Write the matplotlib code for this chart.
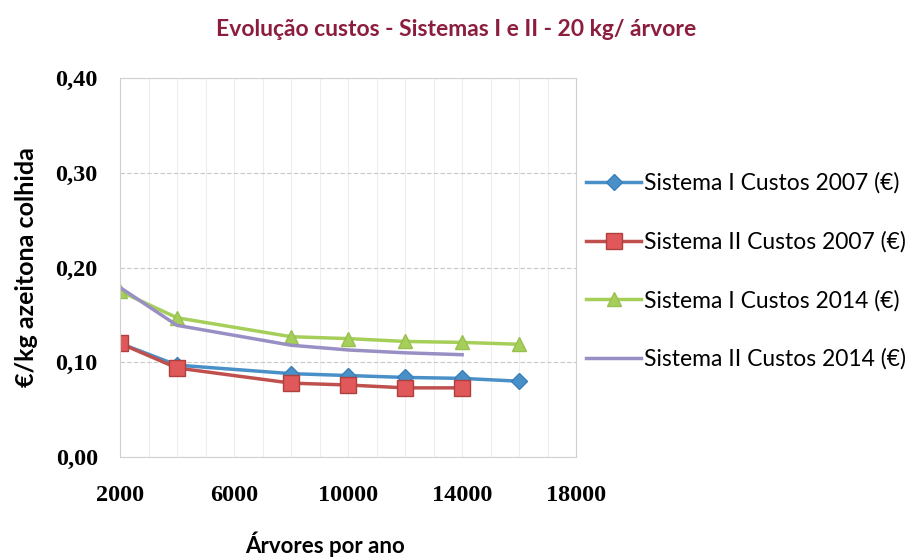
import matplotlib.pyplot as plt
from matplotlib.ticker import FuncFormatter, MultipleLocator

plt.rcParams['font.family'] = ['Lato', 'DejaVu Sans']

arvores = [2000, 4000, 8000, 10000, 12000, 14000, 16000]
arvores_ii = [2000, 4000, 8000, 10000, 12000, 14000]

sis1_2007 = [0.120, 0.097, 0.088, 0.086, 0.084, 0.083, 0.080]
sis2_2007 = [0.120, 0.094, 0.078, 0.076, 0.073, 0.073]
sis1_2014 = [0.175, 0.147, 0.127, 0.125, 0.122, 0.121, 0.119]
sis2_2014 = [0.179, 0.139, 0.118, 0.113, 0.110, 0.108]

labels = ['Sistema I Custos 2007 (€)', 'Sistema II Custos 2007 (€)',
          'Sistema I Custos 2014 (€)', 'Sistema II Custos 2014 (€)']

fig = plt.figure(figsize=(9.16, 5.58), dpi=100)
ax = fig.add_axes([0.131, 0.181, 0.498, 0.679])

ax.plot(arvores, sis1_2007, color='#4a90c8', lw=2.5, marker='D', ms=8,
        markeredgecolor='#3a80b8', label=labels[0])
ax.plot(arvores_ii, sis2_2007, color='#c0504d', lw=2.5, marker='s', ms=11,
        markerfacecolor='#e0585a', markeredgecolor='#b04040', label=labels[1])
ax.plot(arvores, sis1_2014, color='#a6cf5a', lw=2.5, marker='^', ms=10,
        markeredgecolor='#98c050', label=labels[2])
ax.plot(arvores_ii, sis2_2014, color='#9a8fc4', lw=2.5, label=labels[3])

ax.set_xlim(2000, 18000)
ax.set_ylim(0, 0.40)
ax.set_xticks([2000, 6000, 10000, 14000, 18000])
ax.xaxis.set_minor_locator(MultipleLocator(1000))
ax.yaxis.set_major_locator(MultipleLocator(0.1))
ax.yaxis.set_major_formatter(FuncFormatter(lambda v, p: f'{v:.2f}'.replace('.', ',')))

ax.grid(axis='y', which='major', color='#c8c8c8', lw=0.8, ls=(0, (4, 2)))
ax.grid(axis='x', which='both', color='#eeeeee', lw=0.8)
for s in ax.spines.values():
    s.set_color('#d0d0d0')
ax.tick_params(axis='x', which='both', length=0, pad=20)
ax.tick_params(axis='y', which='both', length=0, pad=16)
for t in ax.get_xticklabels() + ax.get_yticklabels():
    t.set_fontfamily('Liberation Serif')
    t.set_fontweight('bold')
    t.set_fontsize(17.5)

ax.set_ylabel('€/kg azeitona colhida', fontsize=18, fontweight='bold')
ax.yaxis.set_label_coords(-0.18, 0.5)
ax.set_xlabel('Árvores por ano', fontsize=16, fontweight='bold', va='center')
ax.xaxis.set_label_coords(0.45, -0.23)

fig.text(0.498, 0.948, 'Evolução custos - Sistemas I e II - 20 kg/ árvore',
         ha='center', va='center', fontsize=16.5, fontweight='bold', color='#8b1e3f')

ax.legend(loc='center left', bbox_to_anchor=(0.63, 0.514), bbox_transform=fig.transFigure,
          frameon=False, fontsize=16.5, labelspacing=1.62, handlelength=2.4,
          handletextpad=0.1, borderaxespad=0)

fig.savefig('out.png', dpi=100)
